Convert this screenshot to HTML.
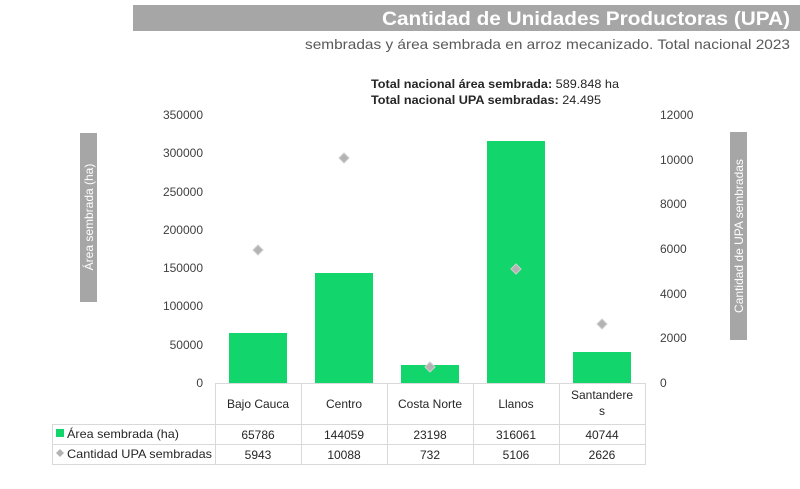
<!DOCTYPE html>
<html><head><meta charset="utf-8"><style>
body{margin:0;background:#fff;}
svg text{font-family:"Liberation Sans",sans-serif;}
</style></head><body>
<svg width="800" height="484" viewBox="0 0 800 484" xmlns="http://www.w3.org/2000/svg">
<rect x="133" y="5" width="667" height="26" fill="#a6a6a6"/>
<text x="382" y="25" textLength="408" lengthAdjust="spacingAndGlyphs" font-size="19" font-weight="bold" fill="#fff">Cantidad de Unidades Productoras (UPA)</text>
<text x="305" y="49" textLength="485" lengthAdjust="spacingAndGlyphs" font-size="14" fill="#595959">sembradas y área sembrada en arroz mecanizado. Total nacional 2023</text>
<text x="371" y="88" font-size="12" fill="#262626" textLength="248" lengthAdjust="spacingAndGlyphs"><tspan font-weight="bold">Total nacional área sembrada:</tspan> 589.848 ha</text>
<text x="371" y="104" font-size="12" fill="#262626" textLength="230" lengthAdjust="spacingAndGlyphs"><tspan font-weight="bold">Total nacional UPA sembradas:</tspan> 24.495</text>
<!-- axis titles -->
<rect x="80" y="133" width="17" height="169" fill="#a6a6a6"/>
<text transform="translate(93,217) rotate(-90)" text-anchor="middle" font-size="12" fill="#fff">Área sembrada (ha)</text>
<rect x="730" y="132" width="17" height="208" fill="#a6a6a6"/>
<text transform="translate(743,236) rotate(-90)" text-anchor="middle" font-size="12" fill="#fff">Cantidad de UPA sembradas</text>
<g font-size="12" fill="#404040" text-anchor="end">
<text x="203" y="387">0</text><text x="203" y="349">50000</text><text x="203" y="310">100000</text><text x="203" y="272">150000</text><text x="203" y="234">200000</text><text x="203" y="196">250000</text><text x="203" y="157">300000</text><text x="203" y="119">350000</text>
</g>
<g font-size="12" fill="#404040">
<text x="660" y="387">0</text><text x="660" y="342">2000</text><text x="660" y="298">4000</text><text x="660" y="253">6000</text><text x="660" y="208">8000</text><text x="660" y="164">10000</text><text x="660" y="119">12000</text>
</g>
<g fill="#12d66b">
<rect x="229" y="333" width="58" height="50"/>
<rect x="315" y="273" width="58" height="110"/>
<rect x="401" y="365" width="58" height="18"/>
<rect x="487" y="141" width="58" height="242"/>
<rect x="573" y="352" width="58" height="31"/>
</g>
<g fill="#b3b3b3" stroke="#d0d0d0" stroke-width="1">
<path d="M258 245 l5 5 l-5 5 l-5 -5z"/>
<path d="M344 153 l5 5 l-5 5 l-5 -5z"/>
<path d="M430 362 l5 5 l-5 5 l-5 -5z"/>
<path d="M516 264 l5 5 l-5 5 l-5 -5z"/>
<path d="M602 319 l5 5 l-5 5 l-5 -5z"/>
</g>
<!-- table -->
<g stroke="#d9d9d9" stroke-width="1" fill="none">
<path d="M215.5 383 V464.5 M645.5 383 V464.5 M52.5 424 V464.5 M52 424.5 H646 M52 444.5 H646 M52 464.5 H646 M215 383.5 H646"/>
<path d="M301.5 383 V464 M387.5 383 V464 M473.5 383 V464 M559.5 383 V464"/>
</g>
<g font-size="12" fill="#262626" text-anchor="middle">
<text x="258" y="408">Bajo Cauca</text><text x="344" y="408">Centro</text><text x="430" y="408">Costa Norte</text><text x="516" y="408">Llanos</text>
<text x="602" y="399">Santandere</text><text x="602" y="415">s</text>
<text x="258" y="439">65786</text><text x="344" y="439">144059</text><text x="430" y="439">23198</text><text x="516" y="439">316061</text><text x="602" y="439">40744</text>
<text x="258" y="459">5943</text><text x="344" y="459">10088</text><text x="430" y="459">732</text><text x="516" y="459">5106</text><text x="602" y="459">2626</text>
</g>
<rect x="56" y="429" width="8" height="8" fill="#12d66b"/>
<path d="M60 449 l4 4 l-4 4 l-4 -4z" fill="#b3b3b3"/>
<g font-size="12" fill="#262626">
<text x="67" y="438" textLength="112" lengthAdjust="spacingAndGlyphs">Área sembrada (ha)</text>
<text x="67" y="458" textLength="145" lengthAdjust="spacingAndGlyphs">Cantidad UPA sembradas</text>
</g>
</svg>
</body></html>
